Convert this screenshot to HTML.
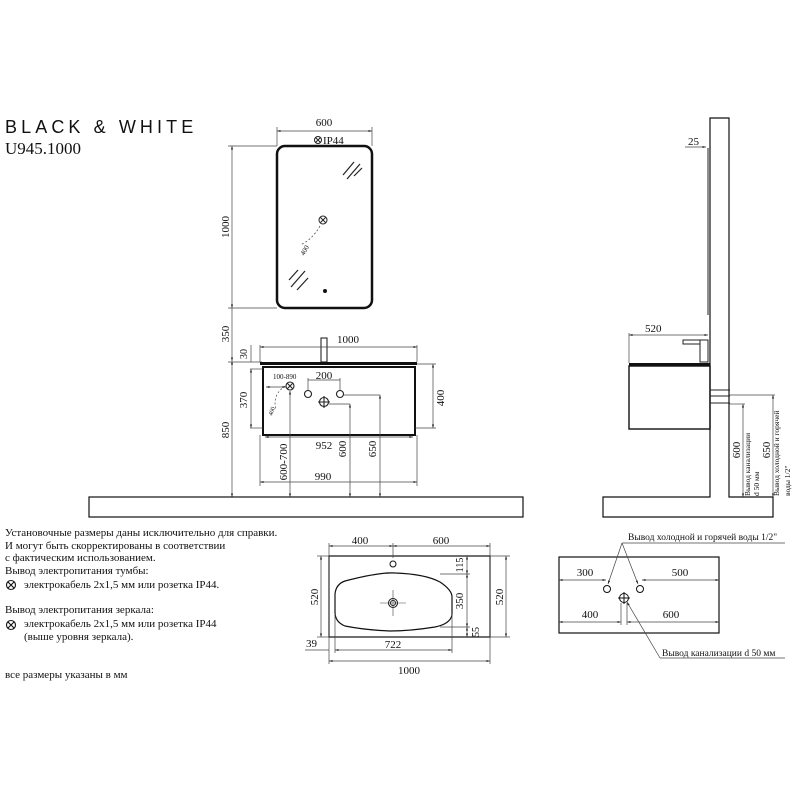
<!DOCTYPE html>
<html><head><meta charset="utf-8"><style>
html,body{margin:0;padding:0;background:#fff;}
svg{display:block;}
text{font-family:"Liberation Serif","DejaVu Serif",serif;fill:#111;}
</style></head><body>
<svg width="800" height="800" viewBox="0 0 800 800" xmlns="http://www.w3.org/2000/svg">
<defs>
<marker id="a" viewBox="0 0 10 10" refX="10" refY="5" markerWidth="7" markerHeight="5" orient="auto-start-reverse"><path d="M0,2 L10,5 L0,8z" fill="#222"/></marker>
</defs>
<text x="5" y="133" style="font-family:'Liberation Sans','DejaVu Sans',sans-serif;font-size:18px;letter-spacing:4.1px;font-weight:300">BLACK &amp; WHITE</text>
<text x="5" y="154" font-size="17">U945.1000</text>

<!-- mirror -->
<rect x="277" y="146" width="95" height="162" rx="8" fill="none" stroke="#111" stroke-width="2.5"/>
<g stroke="#222" stroke-width="1.2">
<line x1="343" y1="175" x2="354" y2="162"/><line x1="347" y1="179" x2="360" y2="164"/><line x1="354" y1="176" x2="362" y2="168"/>
<line x1="289" y1="280" x2="298" y2="270"/><line x1="291" y1="287" x2="305" y2="271"/><line x1="297" y1="290" x2="308" y2="278"/>
</g>
<circle cx="325" cy="291" r="2" fill="#111"/>
<g fill="none" stroke="#222" stroke-width="1"><circle cx="323" cy="220" r="4"/><path d="M320,217 l6,6 M326,217 l-6,6"/><circle cx="318" cy="140" r="3.5"/><path d="M315.5,137.5 l5,5 M320.5,137.5 l-5,5"/></g>
<path d="M320,226 Q312,240 300,245" fill="none" stroke="#555" stroke-dasharray="2,2" stroke-width="0.8"/>
<text x="0" y="0" font-size="7" transform="translate(304,256) rotate(-60)">400</text>
<text x="323" y="144" font-size="11">IP44</text>
<g stroke="#444" stroke-width="0.7" fill="none">
<line x1="277" y1="131" x2="372" y2="131" marker-start="url(#a)" marker-end="url(#a)"/>
<line x1="277" y1="127" x2="277" y2="146"/><line x1="372" y1="127" x2="372" y2="146"/>
<line x1="232" y1="146" x2="232" y2="308" marker-start="url(#a)" marker-end="url(#a)"/>
<line x1="228" y1="146" x2="277" y2="146"/><line x1="228" y1="308" x2="277" y2="308"/>
<line x1="232" y1="308" x2="232" y2="361" marker-end="url(#a)"/>
<line x1="232" y1="361" x2="232" y2="497" marker-start="url(#a)" marker-end="url(#a)"/>
<line x1="228" y1="362" x2="262" y2="362"/>
</g>
<text x="324" y="126" font-size="11" text-anchor="middle">600</text>
<text font-size="11" transform="translate(229,227) rotate(-90)" text-anchor="middle">1000</text>
<text font-size="11" transform="translate(229,334) rotate(-90)" text-anchor="middle">350</text>
<text font-size="11" transform="translate(229,430) rotate(-90)" text-anchor="middle">850</text>

<!-- front cabinet -->
<rect x="89" y="497" width="434" height="20" fill="none" stroke="#111" stroke-width="1.2"/>
<rect x="260" y="362" width="157" height="3" fill="#111"/>
<rect x="263" y="367" width="152" height="68" fill="none" stroke="#111" stroke-width="2"/>
<rect x="321" y="338" width="6" height="24" fill="#fff" stroke="#111" stroke-width="1"/>
<g fill="none" stroke="#222" stroke-width="1.1">
<circle cx="290" cy="386" r="4"/><path d="M287,383 l6,6 M293,383 l-6,6"/>
<circle cx="308" cy="394" r="3.5"/><circle cx="340" cy="394" r="3.5"/>
<circle cx="324" cy="402" r="4.5"/><path d="M318,402 h12 M324,396 v12"/>
</g>
<g stroke="#444" stroke-width="0.7" fill="none">
<line x1="260" y1="347" x2="417" y2="347" marker-start="url(#a)" marker-end="url(#a)"/>
<line x1="260" y1="345" x2="260" y2="362"/><line x1="417" y1="345" x2="417" y2="362"/>
<line x1="251" y1="345" x2="251" y2="362"/>
<line x1="251" y1="369" x2="251" y2="428" marker-start="url(#a)" marker-end="url(#a)"/>
<line x1="250" y1="369" x2="263" y2="369"/><line x1="250" y1="428" x2="263" y2="428"/>
<line x1="433" y1="364" x2="433" y2="428" marker-start="url(#a)" marker-end="url(#a)"/>
<line x1="417" y1="364" x2="436" y2="364"/><line x1="415" y1="428" x2="436" y2="428"/>
<line x1="265" y1="437" x2="413" y2="437" marker-start="url(#a)" marker-end="url(#a)"/>
<line x1="260" y1="482" x2="417" y2="482" marker-start="url(#a)" marker-end="url(#a)"/>
<line x1="260" y1="435" x2="260" y2="486"/><line x1="417" y1="435" x2="417" y2="486"/>
<line x1="308" y1="380" x2="340" y2="380"/><line x1="308" y1="378" x2="308" y2="390"/><line x1="340" y1="378" x2="340" y2="390"/>
<line x1="266" y1="387" x2="286" y2="387" marker-start="url(#a)" marker-end="url(#a)"/>
<line x1="290" y1="391" x2="290" y2="497" marker-start="url(#a)" marker-end="url(#a)"/>
<line x1="329" y1="404" x2="350" y2="404"/>
<line x1="350" y1="404" x2="350" y2="497" marker-start="url(#a)" marker-end="url(#a)"/>
<line x1="344" y1="395" x2="380" y2="395"/>
<line x1="380" y1="395" x2="380" y2="497" marker-start="url(#a)" marker-end="url(#a)"/>
<path d="M285,386 Q272,395 276,410" stroke-dasharray="2,2"/>
</g>
<text x="337" y="343" font-size="11">1000</text>
<text font-size="10" transform="translate(247,354) rotate(-90)" text-anchor="middle">30</text>
<text font-size="11" transform="translate(247,400) rotate(-90)" text-anchor="middle">370</text>
<text font-size="11" transform="translate(444,398) rotate(-90)" text-anchor="middle">400</text>
<text x="324" y="379" font-size="11" text-anchor="middle">200</text>
<text x="273" y="379" font-size="7">100-890</text>
<text font-size="6" transform="translate(272,416) rotate(-70)">400</text>
<text x="324" y="449" font-size="11" text-anchor="middle">952</text>
<text x="323" y="480" font-size="11" text-anchor="middle">990</text>
<text font-size="11" transform="translate(287,462) rotate(-90)" text-anchor="middle">600-700</text>
<text font-size="11" transform="translate(346,449) rotate(-90)" text-anchor="middle">600</text>
<text font-size="11" transform="translate(376,449) rotate(-90)" text-anchor="middle">650</text>

<!-- side view -->
<path d="M710,497 V118 H729 V497 H773 V517 H603 V497 Z" fill="none" stroke="#111" stroke-width="1.2"/>
<line x1="708" y1="148" x2="708" y2="315" stroke="#222" stroke-width="1"/>
<rect x="629" y="363" width="81" height="3" fill="#111"/>
<rect x="629" y="366" width="81" height="63" fill="none" stroke="#111" stroke-width="1.4"/>
<path d="M700,340 h8 v22 h-8 z M683,340 h17 v4 h-17z" fill="#fff" stroke="#222" stroke-width="1"/>
<path d="M710,390 h20 M710,396 h20 M710,403 h20" stroke="#222" stroke-width="1"/>
<g stroke="#444" stroke-width="0.7" fill="none">
<line x1="629" y1="335" x2="708" y2="335" marker-start="url(#a)" marker-end="url(#a)"/>
<line x1="629" y1="333" x2="629" y2="363"/>
<line x1="685" y1="147" x2="706" y2="147" marker-end="url(#a)"/>
<line x1="729" y1="404" x2="745" y2="404"/>
<line x1="743" y1="404" x2="743" y2="497" marker-start="url(#a)" marker-end="url(#a)"/>
<line x1="729" y1="395" x2="775" y2="395"/>
<line x1="773" y1="395" x2="773" y2="497" marker-start="url(#a)" marker-end="url(#a)"/>
</g>
<text x="688" y="145" font-size="11">25</text>
<text x="645" y="332" font-size="11">520</text>
<text font-size="11" transform="translate(740,450) rotate(-90)" text-anchor="middle">600</text>
<text font-size="11" transform="translate(770,450) rotate(-90)" text-anchor="middle">650</text>
<text font-size="7.5" transform="translate(750,496) rotate(-90)">Вывод канализации</text>
<text font-size="7.5" transform="translate(759,496) rotate(-90)">d 50 мм</text>
<text font-size="7.5" transform="translate(779,496) rotate(-90)">Вывод холодной и горячей</text>
<text font-size="7.5" transform="translate(790,496) rotate(-90)">воды 1/2"</text>

<!-- text block -->
<g font-size="11">
<text x="5" y="536">Установочные размеры даны исключительно для справки.</text>
<text x="5" y="549">И могут быть скорректированы в соответствии</text>
<text x="5" y="561">с фактическим использованием.</text>
<text x="5" y="574">Вывод электропитания тумбы:</text>
<text x="24" y="588">электрокабель 2х1,5 мм или розетка IP44.</text>
<text x="5" y="613">Вывод электропитания зеркала:</text>
<text x="24" y="627">электрокабель 2х1,5 мм или розетка IP44</text>
<text x="24" y="640">(выше уровня зеркала).</text>
<text x="5" y="678">все размеры указаны в мм</text>
</g>
<g fill="none" stroke="#111" stroke-width="1.1">
<circle cx="11" cy="585" r="4.5"/><path d="M8,582 l6,6 M14,582 l-6,6"/>
<circle cx="11" cy="625" r="4.5"/><path d="M8,622 l6,6 M14,622 l-6,6"/>
</g>

<!-- top view -->
<rect x="329" y="556" width="161" height="81" fill="none" stroke="#111" stroke-width="1.2"/>
<path d="M345,581 Q380,572 395,573 Q425,574 440,582 Q452,590 452,597 L452,615 Q450,624 435,627 Q410,631 390,631 Q365,630 345,626 Q335,622 335,612 V594 Q336,584 345,581Z" fill="none" stroke="#111" stroke-width="1.2"/>
<circle cx="393" cy="564" r="3" fill="none" stroke="#111"/>
<circle cx="393" cy="603" r="4.5" fill="none" stroke="#111"/><circle cx="393" cy="603" r="2.5" fill="none" stroke="#111"/>
<path d="M380,603 h26 M393,590 v26" stroke="#444" stroke-width="0.6"/>
<g stroke="#444" stroke-width="0.7" fill="none">
<line x1="329" y1="546" x2="393" y2="546" marker-start="url(#a)" marker-end="url(#a)"/>
<line x1="393" y1="546" x2="490" y2="546" marker-start="url(#a)" marker-end="url(#a)"/>
<line x1="329" y1="543" x2="329" y2="664"/><line x1="393" y1="543" x2="393" y2="558"/><line x1="490" y1="543" x2="490" y2="664"/>
<line x1="321" y1="556" x2="321" y2="637" marker-start="url(#a)" marker-end="url(#a)"/>
<line x1="506" y1="556" x2="506" y2="637" marker-start="url(#a)" marker-end="url(#a)"/>
<line x1="490" y1="556" x2="510" y2="556"/><line x1="490" y1="637" x2="510" y2="637"/><line x1="317" y1="637" x2="329" y2="637"/><line x1="317" y1="556" x2="329" y2="556"/>
<line x1="467" y1="556" x2="467" y2="574" marker-start="url(#a)" marker-end="url(#a)"/>
<line x1="467" y1="574" x2="467" y2="627" marker-start="url(#a)" marker-end="url(#a)"/>
<line x1="467" y1="627" x2="467" y2="637" marker-start="url(#a)" marker-end="url(#a)"/>
<line x1="440" y1="574" x2="470" y2="574"/><line x1="440" y1="627" x2="470" y2="627"/>
<line x1="335" y1="650" x2="452" y2="650" marker-start="url(#a)" marker-end="url(#a)"/>
<line x1="335" y1="614" x2="335" y2="653"/><line x1="452" y1="614" x2="452" y2="653"/>
<line x1="329" y1="661" x2="490" y2="661" marker-start="url(#a)" marker-end="url(#a)"/>
<line x1="305" y1="650" x2="329" y2="650"/>
</g>
<text x="360" y="544" font-size="11" text-anchor="middle">400</text>
<text x="441" y="544" font-size="11" text-anchor="middle">600</text>
<text font-size="11" transform="translate(318,597) rotate(-90)" text-anchor="middle">520</text>
<text font-size="11" transform="translate(503,597) rotate(-90)" text-anchor="middle">520</text>
<text font-size="10" transform="translate(463,565) rotate(-90)" text-anchor="middle">115</text>
<text font-size="11" transform="translate(463,601) rotate(-90)" text-anchor="middle">350</text>
<text font-size="10" transform="translate(479,632) rotate(-90)" text-anchor="middle">55</text>
<text x="393" y="648" font-size="11" text-anchor="middle">722</text>
<text x="306" y="647" font-size="11">39</text>
<text x="409" y="674" font-size="11" text-anchor="middle">1000</text>

<!-- wall view -->
<rect x="559" y="557" width="160" height="76" fill="none" stroke="#111" stroke-width="1.2"/>
<circle cx="607" cy="589" r="3.5" fill="none" stroke="#111"/><circle cx="640" cy="589" r="3.5" fill="none" stroke="#111"/>
<circle cx="624" cy="598" r="4.5" fill="none" stroke="#111"/><path d="M618,598 h12 M624,592 v12" stroke="#111" stroke-width="1"/>
<g stroke="#444" stroke-width="0.7" fill="none">
<line x1="559" y1="580" x2="606" y2="580" marker-start="url(#a)" marker-end="url(#a)"/>
<line x1="642" y1="580" x2="719" y2="580" marker-start="url(#a)" marker-end="url(#a)"/>
<line x1="559" y1="622" x2="621" y2="622" marker-start="url(#a)" marker-end="url(#a)"/>
<line x1="627" y1="622" x2="719" y2="622" marker-start="url(#a)" marker-end="url(#a)"/>
<line x1="621" y1="603" x2="621" y2="625"/><line x1="627" y1="603" x2="627" y2="625"/>
<line x1="622" y1="543" x2="608" y2="584" marker-end="url(#a)"/>
<line x1="622" y1="543" x2="638" y2="584" marker-end="url(#a)"/>
<line x1="622" y1="543" x2="785" y2="543"/>
<line x1="660" y1="658" x2="627" y2="602" marker-end="url(#a)"/>
<line x1="660" y1="658" x2="785" y2="658"/>
</g>
<text x="628" y="540" font-size="9.5">Вывод холодной и горячей воды 1/2"</text>
<text x="662" y="656" font-size="9.5">Вывод канализации d 50 мм</text>
<text x="585" y="576" font-size="11" text-anchor="middle">300</text>
<text x="680" y="576" font-size="11" text-anchor="middle">500</text>
<text x="590" y="618" font-size="11" text-anchor="middle">400</text>
<text x="671" y="618" font-size="11" text-anchor="middle">600</text>
</svg>
</body></html>
